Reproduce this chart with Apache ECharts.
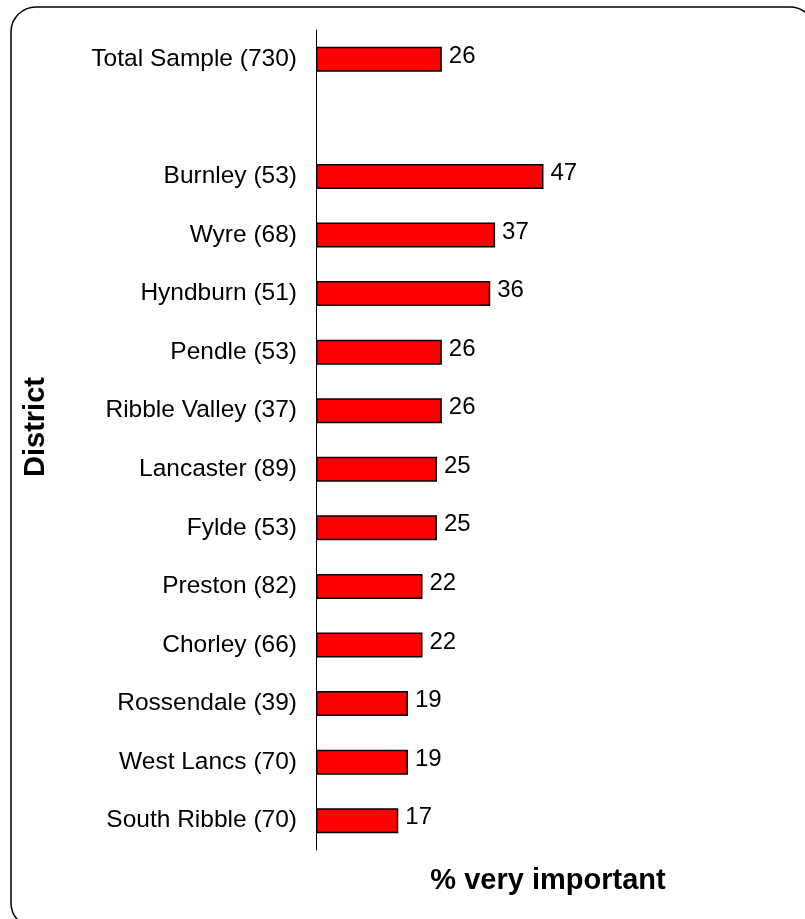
<!DOCTYPE html>
<html>
<head>
<meta charset="utf-8">
<script src="https://cdn.jsdelivr.net/npm/echarts@6/dist/echarts.min.js"></script>
<style>
  html, body { margin: 0; padding: 0; background: #fff; }
  #chart { width: 805px; height: 919px; }
</style>
</head>
<body>
<div id="chart"></div>
<script>
// Districts (sample size in brackets); the blank entry separates the total from the districts
const districts = [
  'Total Sample (730)', '',
  'Burnley (53)', 'Wyre (68)', 'Hyndburn (51)', 'Pendle (53)',
  'Ribble Valley (37)', 'Lancaster (89)', 'Fylde (53)', 'Preston (82)',
  'Chorley (66)', 'Rossendale (39)', 'West Lancs (70)', 'South Ribble (70)'
];
// % rating it very important
const veryImportant = [26, null, 47, 37, 36, 26, 26, 25, 25, 22, 22, 19, 19, 17];

const FONT = "'Liberation Sans', Arial, sans-serif";

const chart = echarts.init(document.getElementById('chart'), null, { renderer: 'canvas' });

chart.setOption({
  backgroundColor: '#ffffff',
  animation: false,
  grid: { left: 316, right: 5, top: 30, bottom: 69, containLabel: false },
  xAxis: {
    type: 'value',
    min: 0,
    max: 100,
    show: false
  },
  yAxis: {
    type: 'category',
    inverse: true,
    data: districts,
    axisLine: { show: true, lineStyle: { color: '#000', width: 1 } },
    axisTick: { show: false },
    axisLabel: {
      color: '#000',
      fontFamily: FONT,
      fontSize: 24.5,
      margin: 19,
      padding: [0, 0, 6, 0]
    },
    splitLine: { show: false }
  },
  series: [{
    type: 'bar',
    data: veryImportant,
    barWidth: 25,
    itemStyle: { color: '#ff0000', borderColor: '#000', borderWidth: 1.5 },
    label: {
      show: true,
      position: 'right',
      distance: 7,
      offset: [0, -3],
      color: '#000',
      fontFamily: FONT,
      fontSize: 24
    }
  }],
  graphic: [
    {
      type: 'rect',
      silent: true,
      z: -1,
      shape: { x: 11, y: 7, width: 804, height: 921, r: 25 },
      style: { fill: 'none', stroke: '#000', lineWidth: 1.5 }
    },
    {
      type: 'text',
      x: 36,
      y: 427,
      rotation: Math.PI / 2,
      style: {
        text: 'District',
        font: 'bold 29px ' + FONT,
        fill: '#000',
        align: 'center',
        verticalAlign: 'middle'
      }
    },
    {
      type: 'text',
      x: 548,
      y: 881,
      style: {
        text: '% very important',
        font: 'bold 29px ' + FONT,
        fill: '#000',
        align: 'center',
        verticalAlign: 'middle'
      }
    }
  ]
});
</script>
</body>
</html>
